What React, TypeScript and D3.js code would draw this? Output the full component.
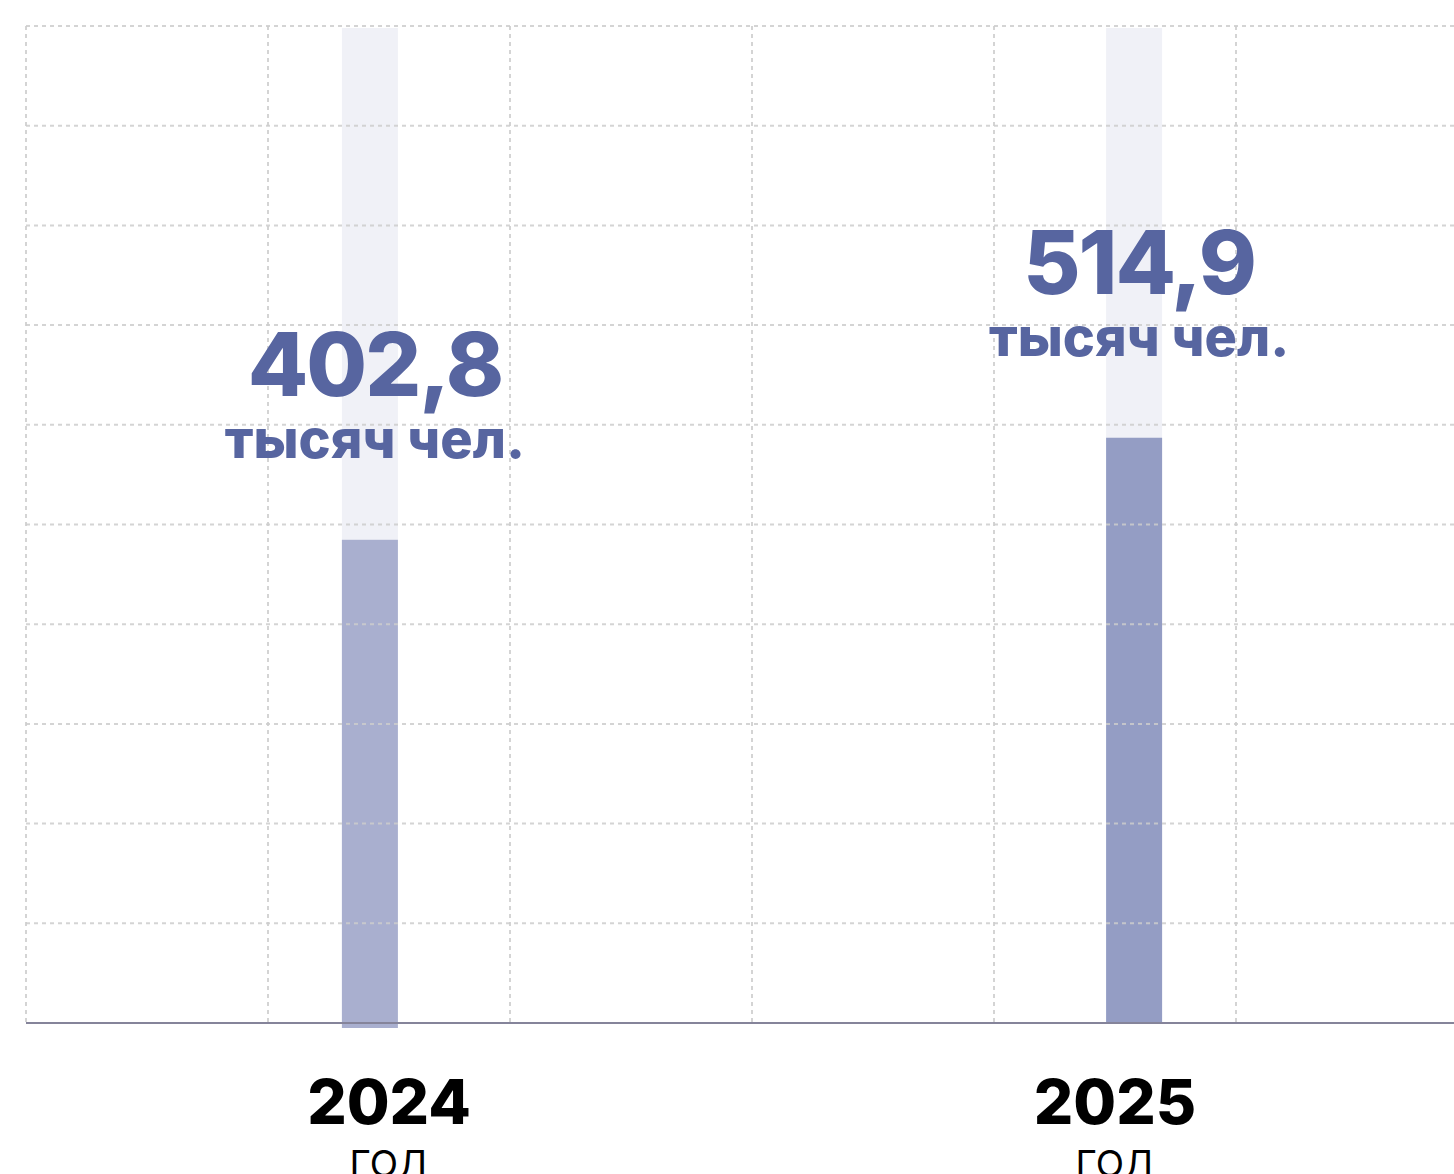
import { useEffect, useRef } from "react";
import * as d3 from "d3";

const years = ["2024", "2025"];
const values = [402.8, 514.9];
const valueLabels = ["402,8", "514,9"];
const unitLabel = "тысяч чел.";
const yearSubLabel = "ГОД";
const yDomain: [number, number] = [-128, 965];
const barColors = ["#a9afcf", "#949dc4"];

export default function App() {
  const svgRef = useRef<SVGSVGElement>(null);

  useEffect(() => {
    if (!svgRef.current) return;
    const width = 1454;
    const height = 1174;
    const margin = { top: 28, left: 26, right: -24, bottom: 151 };
    const baseline = height - margin.bottom;

    const svg = d3.select(svgRef.current);
    svg.selectAll("*").remove();

    const x = d3
      .scaleBand<string>()
      .domain(years)
      .range([margin.left, width - margin.right]);

    const xBar = d3
      .scalePoint<string>()
      .domain(years)
      .range([margin.left, width - margin.right])
      .padding(0.45);

    const y = d3.scaleLinear().domain(yDomain).range([baseline, margin.top]);

    // grid
    const gridY = d3.scaleLinear().domain([0, 10]).range([baseline, margin.top - 2]);
    const gridX = d3.scaleLinear().domain([0, 6]).range([margin.left, width - margin.right]);
    const barW = 56;

    // background tracks
    svg
      .append("g")
      .selectAll("rect")
      .data(years)
      .join("rect")
      .attr("x", (d) => xBar(d)! - barW / 2)
      .attr("width", barW)
      .attr("y", y(yDomain[1]))
      .attr("height", baseline - y(yDomain[1]))
      .attr("fill", "#f0f1f7");

    // bars
    svg
      .append("g")
      .selectAll("rect")
      .data(values)
      .join("rect")
      .attr("x", (_, i) => xBar(years[i])! - barW / 2)
      .attr("width", barW)
      .attr("y", (d) => y(d))
      .attr("height", (d, i) => baseline - y(d) + (i === 0 ? 5 : 0))
      .attr("fill", (_, i) => barColors[i]);

    const grid = svg.append("g").attr("stroke", "#cdcdcd").attr("stroke-opacity", 0.85)
      .attr("stroke-width", 2).attr("stroke-dasharray", "4,4");
    grid
      .selectAll("line.h")
      .data(d3.range(1, 11))
      .join("line")
      .attr("class", "h")
      .attr("x1", margin.left)
      .attr("x2", width)
      .attr("y1", (d) => gridY(d))
      .attr("y2", (d) => gridY(d));
    grid
      .selectAll("line.v")
      .data(d3.range(0, 6))
      .join("line")
      .attr("class", "v")
      .attr("x1", (d) => gridX(d))
      .attr("x2", (d) => gridX(d))
      .attr("y1", gridY(10))
      .attr("y2", baseline);

    // baseline
    svg
      .append("line")
      .attr("x1", margin.left)
      .attr("x2", width)
      .attr("y1", baseline)
      .attr("y2", baseline)
      .attr("stroke", "#85849a")
      .attr("stroke-width", 2);

    // value labels
    const lbl = svg
      .append("g")
      .attr("font-family", "Inter, sans-serif")
      .attr("font-weight", 800)
      .attr("fill", "#5765a0")
      .attr("text-anchor", "middle");
    lbl
      .selectAll("text.v")
      .data(values)
      .join("text")
      .attr("class", "v")
      .attr("x", (_, i) => xBar(years[i])! + 5)
      .attr("y", (d) => y(d) - 144)
      .attr("font-size", 88)
      .attr("letter-spacing", -2)
      .text((_, i) => valueLabels[i]);
    lbl
      .selectAll("text.u")
      .data(values)
      .join("text")
      .attr("class", "u")
      .attr("x", (_, i) => xBar(years[i])! + 5)
      .attr("y", (d) => y(d) - 82)
      .attr("font-size", 54)
      .text(unitLabel);

    // x labels
    const xl = svg.append("g").attr("font-family", "Inter, sans-serif").attr("text-anchor", "middle").attr("fill", "#000");
    xl.selectAll("text.y")
      .data(years)
      .join("text")
      .attr("class", "y")
      .attr("x", (d) => x(d)! + x.bandwidth() / 2)
      .attr("y", 1124)
      .attr("font-size", 62)
      .attr("font-weight", 800)
      .text((d) => d);
    xl.selectAll("text.g")
      .data(years)
      .join("text")
      .attr("class", "g")
      .attr("x", (d) => x(d)! + x.bandwidth() / 2)
      .attr("y", 1177)
      .attr("font-size", 37)
      .attr("font-weight", 400)
      .text(yearSubLabel);
  }, []);

  return (
    <svg
      ref={svgRef}
      width={1454}
      height={1174}
      style={{ position: "absolute", left: 0, top: 0, display: "block", background: "#fff" }}
    />
  );
}
